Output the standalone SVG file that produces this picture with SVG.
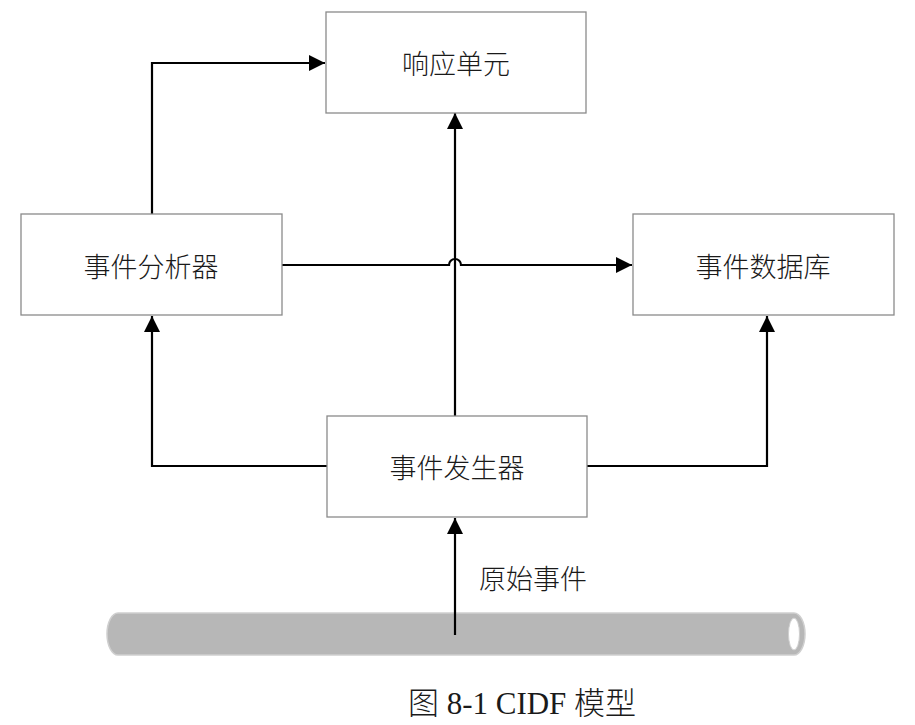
<svg xmlns="http://www.w3.org/2000/svg" width="915" height="725" viewBox="0 0 915 725">
<style>
.box{fill:#fff;stroke:#8a8a8a;stroke-width:1.3}
.lbl{font-family:"Noto Sans CJK SC","Liberation Sans",sans-serif;font-size:27px;font-weight:300;fill:#1a1a1a;text-anchor:middle;dominant-baseline:central}
.cn{fill:none;stroke:#000;stroke-width:2.2}
.cap{font-family:"Liberation Serif","Noto Sans CJK SC",serif;font-size:31px;font-weight:300;fill:#1a1a1a;text-anchor:middle;dominant-baseline:central}
</style>
<defs>
<marker id="ah" viewBox="0 0 10 10" refX="10" refY="5" markerWidth="16" markerHeight="16" markerUnits="userSpaceOnUse" orient="auto">
<path d="M0,0 L10,5 L0,10 Z" fill="#000"/>
</marker>
</defs>
<rect width="915" height="725" fill="#fff"/>
<g id="pipe">
<rect x="107" y="613" width="698" height="42" rx="11" ry="21" fill="#b7b7b7" stroke="#cfcfcf" stroke-width="1.5"/>
<ellipse cx="794" cy="634" rx="5.5" ry="16" fill="#fff" stroke="#cfcfcf" stroke-width="1"/>
</g>
<g id="connectors">
<path class="cn" d="M152,214 V63 H325" marker-end="url(#ah)"/>
<path class="cn" d="M455,416 V113" marker-end="url(#ah)"/>
<path class="cn" d="M282,265 H449 A6,6 0 0 1 461,265 H632" marker-end="url(#ah)"/>
<path class="cn" d="M327,466 H152 V316" marker-end="url(#ah)"/>
<path class="cn" d="M587,466 H767 V316" marker-end="url(#ah)"/>
<path class="cn" d="M455,635 V518" marker-end="url(#ah)"/>
</g>
<g id="response">
<rect class="box" x="326" y="12" width="260" height="101"/>
<text class="lbl" x="456" y="62">响应单元</text>
</g>
<g id="analyzer">
<rect class="box" x="21" y="214" width="261" height="101"/>
<text class="lbl" x="151" y="265">事件分析器</text>
</g>
<g id="database">
<rect class="box" x="633" y="214" width="261" height="101"/>
<text class="lbl" x="763" y="265">事件数据库</text>
</g>
<g id="generator">
<rect class="box" x="327" y="416" width="260" height="101"/>
<text class="lbl" x="457" y="466">事件发生器</text>
</g>
<text class="lbl" x="533" y="577">原始事件</text>
<text class="cap" x="522" y="703">图 8-1 CIDF 模型</text>
</svg>
